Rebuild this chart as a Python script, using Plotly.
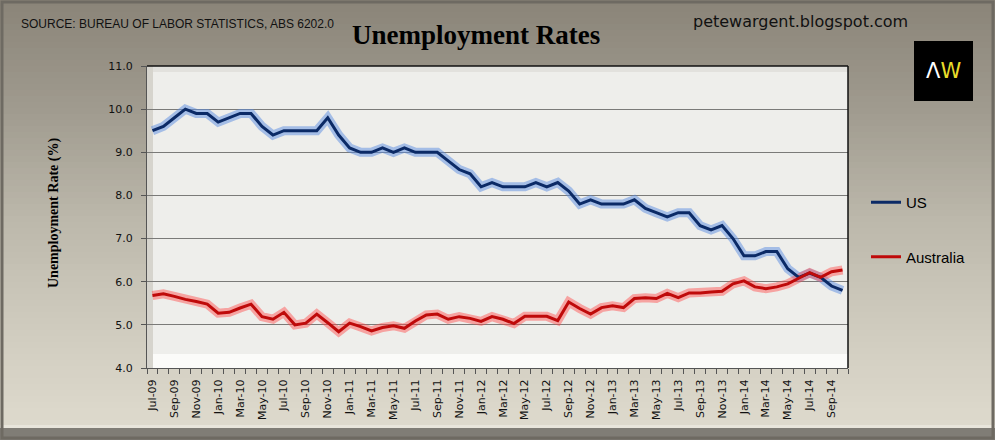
import pandas as pd
import plotly.graph_objs as go

# monthly, Jul-09 .. Oct-14
months = list(pd.date_range("2009-07-01", "2014-10-01", freq="MS").strftime("%b-%y"))

us_rate = [9.5, 9.6, 9.8, 10.0, 9.9, 9.9, 9.7, 9.8, 9.9, 9.9,
           9.6, 9.4, 9.5, 9.5, 9.5, 9.5, 9.8, 9.4, 9.1, 9.0,
           9.0, 9.1, 9.0, 9.1, 9.0, 9.0, 9.0, 8.8, 8.6, 8.5,
           8.2, 8.3, 8.2, 8.2, 8.2, 8.3, 8.2, 8.3, 8.1, 7.8,
           7.9, 7.8, 7.8, 7.8, 7.9, 7.7, 7.6, 7.5, 7.6, 7.6,
           7.3, 7.2, 7.3, 7.0, 6.6, 6.6, 6.7, 6.7, 6.3, 6.1,
           6.2, 6.1, 5.9, 5.8]

aus_rate = [5.68, 5.72, 5.66, 5.59, 5.54, 5.48, 5.27, 5.29, 5.39, 5.48,
            5.19, 5.13, 5.29, 5.00, 5.04, 5.25, 5.05, 4.84, 5.04, 4.96,
            4.86, 4.94, 4.98, 4.92, 5.09, 5.23, 5.25, 5.13, 5.19, 5.15,
            5.08, 5.19, 5.13, 5.03, 5.20, 5.20, 5.20, 5.10, 5.53, 5.38,
            5.25, 5.40, 5.44, 5.40, 5.61, 5.63, 5.61, 5.73, 5.63, 5.74,
            5.74, 5.76, 5.78, 5.95, 6.02, 5.88, 5.84, 5.88, 5.95, 6.08,
            6.21, 6.10, 6.23, 6.27]

y_ticks = [4, 5, 6, 7, 8, 9, 10, 11]

x = list(range(len(months)))

# figure geometry (pixels) -> paper coords
W, H = 995, 440
L, R, T, B = 147, 147, 66, 72
PW, PH = W - L - R, H - T - B


def px(xp):
    return (xp - L) / PW


def py(yp):
    return (H - B - yp) / PH


def mix(c1, c2, f):
    return "rgb(%d,%d,%d)" % tuple(round(a + (b - a) * f) for a, b in zip(c1, c2))


# background gradient stops (pixel y, rgb)
stops = [(0, (138, 132, 120)), (110, (160, 155, 143)), (220, (188, 184, 171)),
         (330, (208, 204, 191)), (428, (222, 218, 205))]

shapes = []
step = 6
for y0 in range(0, 428, step):
    ym = y0 + step / 2
    for (a, ca), (b, cb) in zip(stops[:-1], stops[1:]):
        if a <= ym <= b:
            col = mix(ca, cb, (ym - a) / (b - a))
            break
    shapes.append(dict(type="rect", xref="paper", yref="paper", layer="below",
                       x0=px(0), x1=px(W), y0=py(y0 + step), y1=py(y0),
                       fillcolor=col, line_width=0))
# bottom dark band + outer frame
shapes.append(dict(type="rect", xref="paper", yref="paper", layer="below",
                   x0=px(0), x1=px(W), y0=py(H), y1=py(428),
                   fillcolor="rgb(128,125,118)", line_width=0))
shapes.append(dict(type="rect", xref="paper", yref="paper", layer="below",
                   x0=px(0), x1=px(W), y0=py(428), y1=py(425),
                   fillcolor="rgb(232,229,219)", line_width=0))
shapes.append(dict(type="rect", xref="paper", yref="paper", layer="below",
                   x0=px(2), x1=px(W - 2), y0=py(H - 2), y1=py(2),
                   line=dict(color="rgb(110,106,98)", width=3)))
# plot area with bevel
shapes.append(dict(type="rect", xref="paper", yref="paper", layer="below",
                   x0=0, x1=1, y0=0, y1=1, fillcolor="#eeeeeb", line_width=0))
shapes.append(dict(type="rect", xref="paper", yref="paper", layer="below",
                   x0=0, x1=px(L + 6), y0=0, y1=1, fillcolor="#d6d4cd", line_width=0))
shapes.append(dict(type="rect", xref="paper", yref="paper", layer="below",
                   x0=px(L + 6), x1=1, y0=0, y1=py(H - B - 14), fillcolor="#fbfbf9",
                   line_width=0))
shapes.append(dict(type="rect", xref="paper", yref="paper", layer="below",
                   x0=px(L + 6), x1=1, y0=py(T + 6), y1=1, fillcolor="#e2e1dd",
                   line_width=0))
shapes.append(dict(type="line", xref="paper", yref="paper", layer="above",
                   x0=0, x1=1, y0=1, y1=1, line=dict(color="#111111", width=1.5)))
shapes.append(dict(type="line", xref="paper", yref="paper", layer="above",
                   x0=1, x1=1, y0=0, y1=1, line=dict(color="#111111", width=1.5)))
# logo box
shapes.append(dict(type="rect", xref="paper", yref="paper", layer="above",
                   x0=px(914), x1=px(973), y0=py(101), y1=py(41),
                   fillcolor="#000000", line_width=0))

fig = go.Figure()

# soft glow under each line
fig.add_trace(go.Scatter(x=x, y=us_rate, mode="lines", showlegend=False, hoverinfo="skip",
                         line=dict(color="rgba(90,140,225,0.5)", width=9)))
fig.add_trace(go.Scatter(x=x, y=aus_rate, mode="lines", showlegend=False, hoverinfo="skip",
                         line=dict(color="rgba(255,70,70,0.45)", width=9)))

fig.add_trace(go.Scatter(x=x, y=us_rate, mode="lines", name="US", legendgroup="us",
                         line=dict(color="#0b2a66", width=3)))
fig.add_trace(go.Scatter(x=x, y=aus_rate, mode="lines", name="Australia", legendgroup="aus",
                         line=dict(color="#bf0a0a", width=3)))

annotations = [
    dict(text="SOURCE: BUREAU OF LABOR STATISTICS, ABS 6202.0", xref="paper", yref="paper",
         x=px(19), y=py(24), xanchor="left", yanchor="middle", showarrow=False,
         font=dict(family="Liberation Sans", size=12, color="#111111")),
    dict(text="<b>Unemployment Rates</b>", xref="paper", yref="paper",
         x=px(476), y=py(35), xanchor="center", yanchor="middle", showarrow=False,
         font=dict(family="Liberation Serif", size=27, color="#000000")),
    dict(text="petewargent.blogspot.com", xref="paper", yref="paper",
         x=px(800), y=py(22), xanchor="center", yanchor="middle", showarrow=False,
         font=dict(family="DejaVu Sans", size=16, color="#111111")),
    dict(text="<span style='color:#ffffff'>Λ</span><span style='color:#e8dc2a'>W</span>",
         xref="paper", yref="paper", x=px(943.5), y=py(71), xanchor="center",
         yanchor="middle", showarrow=False,
         font=dict(family="DejaVu Sans", size=21)),
    dict(text="<b>Unemployment Rate (%)</b>", xref="paper", yref="paper",
         x=px(54), y=py(213), xanchor="center", yanchor="middle", showarrow=False,
         textangle=-90, font=dict(family="Liberation Serif", size=14, color="#000000")),
]

fig.update_layout(
    width=W, height=H,
    margin=dict(l=L, r=R, t=T, b=B, pad=0),
    paper_bgcolor="#b8b4a6",
    plot_bgcolor="rgba(0,0,0,0)",
    shapes=shapes,
    annotations=annotations,
    hovermode=False,
    legend=dict(x=px(866), y=py(186), xanchor="left", yanchor="top",
                bgcolor="rgba(0,0,0,0)", tracegroupgap=32, itemwidth=30,
                font=dict(family="Liberation Sans", size=15, color="#000000")),
    xaxis=dict(
        range=[-0.5, len(months) - 0.5],
        tickmode="array", tickvals=x[::2], ticktext=months[::2],
        tickangle=-90, ticks="", showgrid=False, zeroline=False,
        showline=True, linecolor="#555555", linewidth=1,
        tickfont=dict(family="DejaVu Sans", size=11, color="#111111"),
        ticklabelstandoff=6,
        minor=dict(tickmode="array", tickvals=[i - 0.5 for i in range(len(months) + 1)],
                   ticks="outside", ticklen=5, tickcolor="#555555", showgrid=False),
    ),
    yaxis=dict(
        range=[4, 11], tickmode="array", tickvals=y_ticks,
        ticktext=["%.1f" % v for v in y_ticks],
        ticks="outside", ticklen=5, tickcolor="#555555",
        showgrid=True, gridcolor="#7a7a78", gridwidth=1, zeroline=False,
        showline=True, linecolor="#555555", linewidth=1,
        tickfont=dict(family="DejaVu Sans", size=11, color="#111111"),
        ticklabelstandoff=6,
    ),
)

# drop the browser's default body margin so the figure sits at the window origin
fig.write_html("out.html", config={"displayModeBar": False},
               post_script="document.body.style.margin='0';document.body.style.overflow='hidden';")
